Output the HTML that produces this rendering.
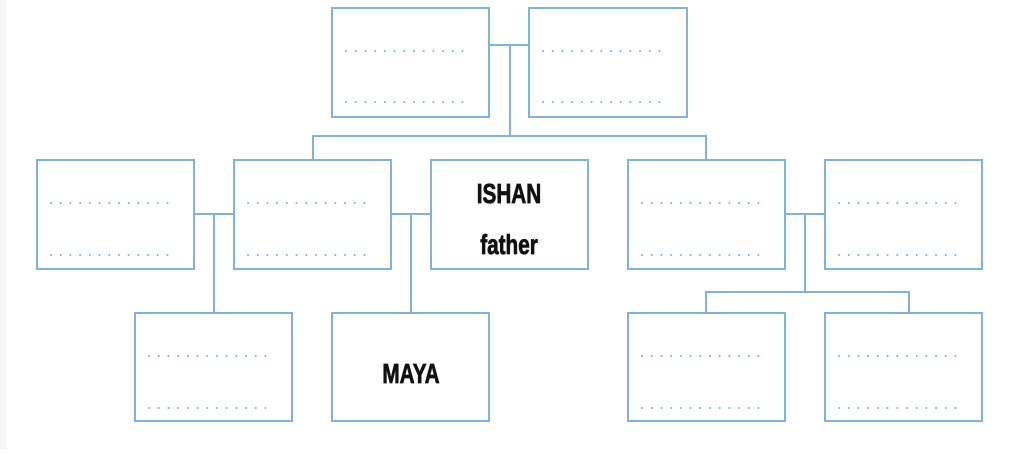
<!DOCTYPE html>
<html><head><meta charset="utf-8"><style>
html,body{margin:0;padding:0;background:#fff;}
body{width:1024px;height:449px;overflow:hidden;}
</style></head><body>
<svg width="1024" height="449" viewBox="0 0 1024 449" xmlns="http://www.w3.org/2000/svg">
<rect x="0" y="0" width="7" height="449" fill="#f6f6f6"/>
<g fill="none" stroke="#7fb3dc" stroke-width="2">
<rect x="332" y="8" width="157" height="109"/>
<rect x="529" y="8" width="158" height="109"/>
<rect x="37" y="160" width="157" height="109"/>
<rect x="234" y="160" width="157" height="109"/>
<rect x="431" y="160" width="157" height="109"/>
<rect x="628" y="160" width="157" height="109"/>
<rect x="825" y="160" width="157" height="109"/>
<rect x="135" y="313" width="157" height="108"/>
<rect x="332" y="313" width="157" height="108"/>
<rect x="628" y="313" width="157" height="108"/>
<rect x="825" y="313" width="157" height="108"/>
<path d="M489 45H529M510 45V136M313 160V136H706V160"/>
<path d="M194 214H234M214 214V313M391 214H431M411 214V313"/>
<path d="M785 214H825M805 214V292M706 313V292H909V313"/>
</g>
<g stroke="#7ab6e4" stroke-width="2" stroke-dasharray="0.1 9.6" stroke-linecap="round">
<path d="M346 51H472M346 102H472"/>
<path d="M543 51H669M543 102H669"/>
<path d="M51 203H177M51 255H177"/>
<path d="M248 203H374M248 255H374"/>
<path d="M642 203H768M642 255H768"/>
<path d="M839 203H965M839 255H965"/>
<path d="M149 356H275M149 408H275"/>
<path d="M642 356H768M642 408H768"/>
<path d="M839 356H965M839 408H965"/>
</g>
<g font-family="Liberation Sans, sans-serif" font-weight="bold" font-size="28" fill="#111" stroke="#111" stroke-width="0.8" text-anchor="middle">
<text x="509" y="203" transform="translate(509 0) scale(0.74 1) translate(-509 0)">ISHAN</text>
<text x="509" y="254" transform="translate(509 0) scale(0.74 1) translate(-509 0)">father</text>
<text x="411" y="383" transform="translate(411 0) scale(0.74 1) translate(-411 0)">MAYA</text>
</g>
</svg>
</body></html>
